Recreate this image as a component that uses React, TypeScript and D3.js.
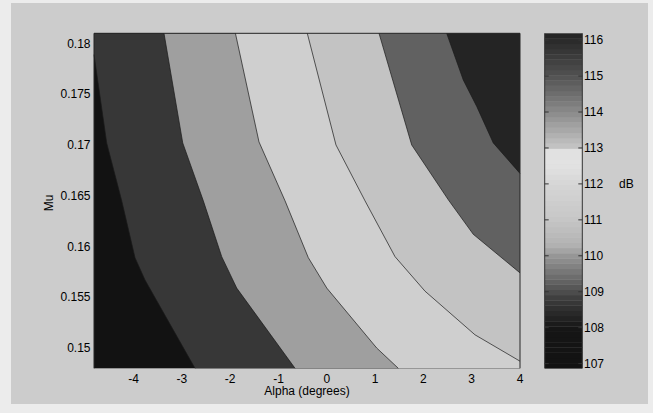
import React from 'react';
import * as d3 from 'd3';

// axis ticks
const alphaTicks = [-4, -3, -2, -1, 0, 1, 2, 3, 4];
const muTicks = [0.15, 0.155, 0.16, 0.165, 0.17, 0.175, 0.18];
const dbTicks = [107, 108, 109, 110, 111, 112, 113, 114, 115, 116];

const alphaRange = [-4.82, 4];
const muRange = [0.148, 0.181];
const dbRange = [106.87, 116.19];

// gray colormap (dB -> gray level)
const cmapDb = [106.87, 108.0, 108.3, 108.8, 109.0, 109.5, 110.0, 110.3, 111.0, 112.0, 112.5, 112.95, 113.05, 114.0, 115.0, 116.19];
const cmapGray = [18, 22, 36, 60, 78, 115, 150, 178, 198, 214, 226, 225, 195, 138, 82, 34];

// contour lines as [alpha, mu]
const line1 = [[-4.82, 0.1789], [-4.557, 0.1702], [-4.246, 0.1645], [-3.971, 0.1589], [-3.764, 0.1567], [-2.729, 0.148]];
const line2 = [[-3.371, 0.181], [-2.983, 0.1702], [-2.557, 0.1645], [-2.176, 0.159], [-1.865, 0.1559], [-0.658, 0.148]];
const line3 = [[-1.892, 0.181], [-1.404, 0.1703], [-0.865, 0.1645], [-0.383, 0.1589], [0.0, 0.1559], [1.033, 0.15], [1.48, 0.148]];
const line4 = [[-0.404, 0.181], [0.19, 0.17], [0.791, 0.1645], [1.412, 0.159], [2.033, 0.1556], [3.068, 0.1513], [4, 0.1487]];
const line5 = [[1.081, 0.181], [1.758, 0.17], [2.516, 0.1646], [3.033, 0.1612], [4, 0.1574]];
const line6 = [[2.482, 0.181], [2.826, 0.1764], [3.104, 0.1738], [3.447, 0.1702], [4, 0.1672]];
const contourLines = [line1, line2, line3, line4, line5, line6];

// dB value of each filled band, left to right
const bandDb = [107.0, 108.7, 110.1, 111.56, 113.05, 114.73, 116.15];

const W = 653, H = 413;
const plot = { left: 94, right: 520, top: 33.3, bottom: 368.3 };
const bar = { left: 544.7, right: 582.3 };
const font = '"Liberation Sans", Arial, sans-serif';

export default function App() {
  const x = d3.scaleLinear().domain(alphaRange).range([plot.left, plot.right]);
  const y = d3.scaleLinear().domain(muRange).range([plot.bottom, plot.top]);
  const c = d3.scaleLinear().domain(dbRange).range([plot.bottom, plot.top]);
  const grayOf = d3.scaleLinear().domain(cmapDb).range(cmapGray).clamp(true);
  const color = (v: number) => {
    const g = Math.round(grayOf(v));
    return d3.rgb(g, g, g).formatHex();
  };

  const pw = plot.right - plot.left, ph = plot.bottom - plot.top;
  // position along the plot border, clockwise from top-left
  const perim = ([px, py]: number[]) => {
    if (Math.abs(py - plot.top) < 0.5) return (px - plot.left) / pw;
    if (Math.abs(px - plot.right) < 0.5) return 1 + (py - plot.top) / ph;
    if (Math.abs(py - plot.bottom) < 0.5) return 2 + (plot.right - px) / pw;
    return 3 + (plot.bottom - py) / ph;
  };
  const corners = [
    [plot.left, plot.top], [plot.right, plot.top],
    [plot.right, plot.bottom], [plot.left, plot.bottom],
  ];
  const mod4 = (v: number) => ((v % 4) + 4) % 4;

  // region on the high side (right) of a contour line
  const regionPath = (pts: number[][]) => {
    const p = pts.map(d => [x(d[0]), y(d[1])]);
    const tS = perim(p[0]), tE = perim(p[p.length - 1]);
    const dist = mod4(tE - tS);
    const extra = corners
      .map((cp, i) => ({ cp, d: mod4(tE - i) }))
      .filter(o => o.d > 0 && o.d < dist)
      .sort((a, b) => a.d - b.d)
      .map(o => o.cp);
    return d3.line()(p.concat(extra) as [number, number][]) + 'Z';
  };

  const linePath = d3.line<number[]>().x(d => x(d[0])).y(d => y(d[1]));

  const nSteps = 64;
  const step = (dbRange[1] - dbRange[0]) / nSteps;
  const steps = d3.range(nSteps).map(i => dbRange[0] + i * step);

  return (
    <svg width={W} height={H} style={{ position: 'absolute', left: 0, top: 0 }} fontFamily={font}>
      <rect x={0} y={0} width={W} height={H} fill="#ececec" />
      <rect x={11} y={3} width={637} height={401} fill="#cccccc" />

      {/* filled contours */}
      <rect x={plot.left} y={plot.top} width={pw} height={ph} fill={color(bandDb[0])} />
      {contourLines.map((ln, i) => (
        <path key={'f' + i} d={regionPath(ln)} fill={color(bandDb[i + 1])} />
      ))}
      {contourLines.map((ln, i) => (
        <path key={'l' + i} d={linePath(ln) || ''} fill="none" stroke="#1a1a1a" strokeWidth={0.7} />
      ))}

      {/* frame */}
      <path d={`M${plot.left},${plot.bottom}V${plot.top}H${plot.right}V${plot.bottom}`} fill="none" stroke="#262626" strokeWidth={1} />

      {/* axes */}
      {muTicks.map(t => (
        <text key={'m' + t} x={plot.left - 3.5} y={y(t) + 4.2} textAnchor="end" fontSize={12} fill="#000">{t}</text>
      ))}
      {alphaTicks.map(t => (
        <text key={'a' + t} x={x(t)} y={382.5} textAnchor="middle" fontSize={12} fill="#000">{t}</text>
      ))}
      <text x={(plot.left + plot.right) / 2} y={395} textAnchor="middle" fontSize={12} fill="#000">Alpha (degrees)</text>
      <text transform={`translate(53,${(plot.top + plot.bottom) / 2 + 2}) rotate(-90)`} textAnchor="middle" fontSize={12} fill="#000">Mu</text>

      {/* colorbar */}
      {steps.map((v, i) => (
        <rect key={'c' + i} x={bar.left} y={c(v + step)} width={bar.right - bar.left} height={c(v) - c(v + step) + 0.3} fill={color(v + step / 2)} />
      ))}
      <path d={`M${bar.left},${plot.bottom}V${plot.top}M${bar.right},${plot.top}V${plot.bottom}`} stroke="#333" strokeWidth={1} fill="none" />
      {dbTicks.map(t => (
        <g key={'d' + t}>
          <line x1={bar.left} x2={bar.left + 4} y1={c(t)} y2={c(t)} stroke="#333" />
          <line x1={bar.right - 4} x2={bar.right} y1={c(t)} y2={c(t)} stroke="#333" />
          <text x={bar.right + 1.7} y={c(t) + 4.2} fontSize={12} fill="#000">{t}</text>
        </g>
      ))}
      <text x={619} y={188} fontSize={12} fill="#000">dB</text>
    </svg>
  );
}
